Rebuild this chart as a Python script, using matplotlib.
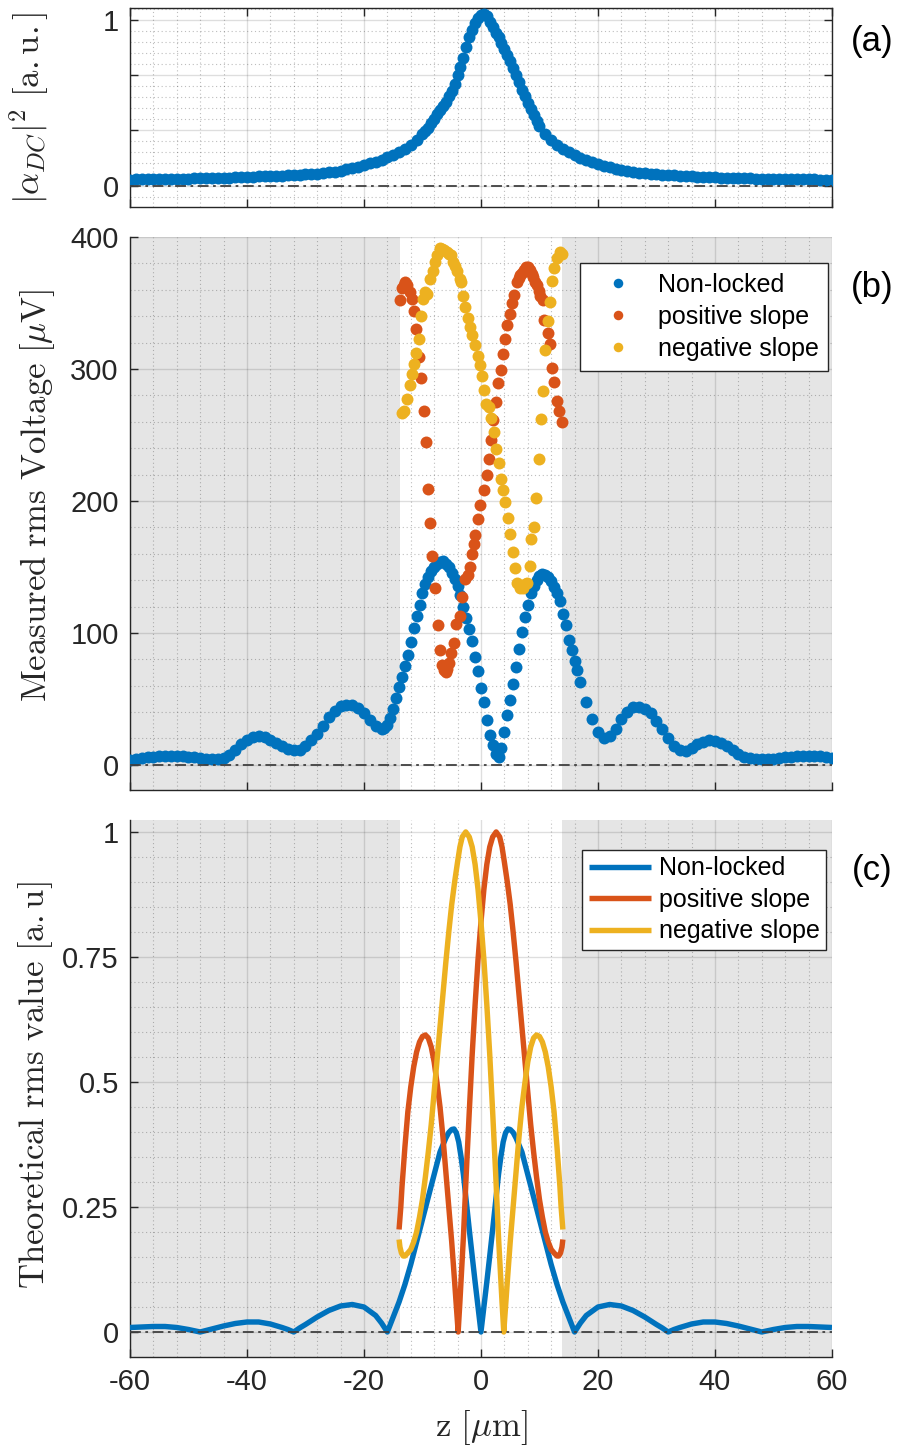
import matplotlib
matplotlib.use('Agg')
import matplotlib.pyplot as plt
from matplotlib.ticker import MultipleLocator, FixedLocator, FixedFormatter

plt.rcParams['mathtext.fontset'] = 'cm'
plt.rcParams['font.family'] = ['Liberation Sans', 'DejaVu Sans']
plt.rcParams['axes.unicode_minus'] = False

# ---------------- data ----------------
# panel (a): |alpha_DC|^2
za = [-60, -59, -58, -57, -56, -55, -54, -53, -52, -51, -50, -49, -48, -47, -46, -45, -44, -43, -42, -41,
      -40, -39, -38, -37, -36, -35, -34, -33, -32, -31, -30, -29, -28, -27, -26, -25, -24, -23, -22, -21,
      -20, -19, -18, -17, -16, -15, -14, -13, -12, -11,
      -10, -9.5, -9, -8.5, -8, -7.5, -7, -6.5, -6, -5.5, -5, -4.5, -4, -3.5, -3, -2.5, -2, -1.5, -1, -0.5,
      0, 0.5, 1, 1.5, 2, 2.5, 3, 3.5, 4, 4.5, 5, 5.5, 6, 6.5, 7, 7.5, 8, 8.5, 9, 9.5, 10,
      11, 12, 13, 14, 15, 16, 17, 18, 19, 20, 21, 22, 23, 24, 25, 26, 27, 28, 29, 30,
      31, 32, 33, 34, 35, 36, 37, 38, 39, 40, 41, 42, 43, 44, 45, 46, 47, 48, 49, 50,
      51, 52, 53, 54, 55, 56, 57, 58, 59, 60]
alpha_dc = [0.036, 0.037, 0.037, 0.038, 0.038, 0.039, 0.039, 0.040, 0.041, 0.041, 0.042, 0.043, 0.043, 0.044,
            0.045, 0.046, 0.047, 0.048, 0.050, 0.051, 0.053, 0.054, 0.055, 0.056, 0.058, 0.059, 0.060, 0.062,
            0.064, 0.066, 0.068, 0.070, 0.072, 0.075, 0.079, 0.084, 0.090, 0.099, 0.106, 0.115, 0.126, 0.135,
            0.145, 0.157, 0.170, 0.185, 0.200, 0.220, 0.245, 0.275,
            0.31, 0.33, 0.35, 0.375, 0.40, 0.43, 0.455, 0.48, 0.505, 0.54, 0.57, 0.615, 0.665, 0.715, 0.77,
            0.835, 0.895, 0.94, 0.98, 1.01,
            1.03, 1.035, 1.025, 0.99, 0.955, 0.92, 0.895, 0.86, 0.825, 0.79, 0.75, 0.71, 0.665, 0.625, 0.58,
            0.54, 0.50, 0.465, 0.425, 0.39, 0.36,
            0.31, 0.275, 0.245, 0.222, 0.20, 0.183, 0.168, 0.155, 0.142, 0.131, 0.12, 0.11, 0.102, 0.094,
            0.087, 0.082, 0.078, 0.074, 0.071, 0.068, 0.066, 0.063, 0.061, 0.059, 0.057, 0.055, 0.053, 0.052,
            0.050, 0.049, 0.048, 0.047, 0.046, 0.045, 0.044, 0.043, 0.042, 0.042, 0.041, 0.040, 0.040, 0.039,
            0.039, 0.038, 0.038, 0.037, 0.037, 0.036, 0.036, 0.036]

# panel (b): measured rms voltage, non-locked
zb_blue = [-60, -59, -58, -57, -56, -55, -54, -53, -52, -51, -50, -49, -48, -47, -46, -45, -44, -43, -42, -41,
           -40, -39, -38, -37, -36, -35, -34, -33, -32, -31, -30, -29, -28, -27, -26, -25, -24, -23, -22, -21,
           -20, -19, -18, -17,
           -16.5, -16, -15.5, -15, -14.5, -14, -13.5, -13, -12.5, -12, -11.5, -11, -10.5, -10, -9.5, -9, -8.5,
           -8, -7.5, -7, -6.5, -6, -5.5, -5, -4.5, -4, -3.5, -3, -2.5, -2, -1.5, -1, -0.5, 0, 0.5, 1, 1.5, 2,
           2.5, 3, 3.5, 4, 4.5, 5, 5.5, 6, 6.5, 7, 7.5, 8, 8.5, 9, 9.5, 10, 10.5, 11, 11.5, 12, 12.5, 13,
           13.5, 14, 14.5, 15, 15.5, 16, 16.5,
           17, 18, 19, 20, 21, 22, 23, 24, 25, 26, 27, 28, 29, 30, 31, 32, 33, 34, 35, 36, 37, 38, 39, 40,
           41, 42, 43, 44, 45, 46, 47, 48, 49, 50, 51, 52, 53, 54, 55, 56, 57, 58, 59, 60]
vb_blue = [3.8, 4.6, 5.2, 5.8, 6.3, 6.6, 6.8, 6.8, 6.8, 6.7, 6.3, 5.8, 5.2, 4.8, 4.5, 4.3, 5.0, 7.5, 11.5, 15.7,
           19.0, 21.3, 22.0, 21.5, 19.2, 16.5, 14.2, 11.8, 10.9, 11.3, 14.3, 18.5, 23.5, 29.5, 36.0, 41.2, 44.3,
           45.5, 45.2, 43.0, 39.5, 34.0, 29.2, 27.0,
           28.0, 30.0, 35.5, 42.5, 50.5, 59.0, 66.5, 75.0, 83.5, 93.0, 104.0, 112.5, 121.0, 130.0, 137.0, 142.5,
           147.0, 150.0, 152.5, 154.0, 154.5, 152.5, 150.0, 145.5, 141.0, 135.5, 128.5, 120.0, 111.5, 103.0,
           94.0, 82.0, 71.0, 58.5, 48.0, 34.0, 23.0, 15.0, 8.5, 6.0, 13.0, 25.0, 38.0, 49.5, 61.5, 74.0, 88.0,
           101.0, 112.0, 121.0, 130.0, 135.5, 140.0, 143.0, 144.3, 144.0, 142.5, 139.5, 134.5, 130.5, 124.5,
           114.5, 106.0, 95.0, 87.0, 79.0, 72.0,
           63.0, 48.0, 35.0, 25.0, 20.5, 22.0, 27.5, 34.5, 40.0, 43.5, 44.0, 42.5, 39.0, 33.5, 27.0, 20.0,
           14.5, 11.0, 10.2, 12.5, 15.5, 17.5, 19.0, 18.3, 16.5, 14.0, 11.0, 8.0, 6.0, 5.1, 4.5, 4.3, 4.3,
           4.5, 5.0, 5.6, 6.3, 6.8, 7.0, 7.0, 6.8, 6.5, 6.0, 5.5]

# panel (b): positive slope
zb_pos = [-13.8, -13.5, -13.2, -12.9, -12.6, -12.2, -11.8, -11.5, -11.05, -10.65, -10.25, -9.8, -9.4, -9.05,
          -8.65, -8.35, -7.8, -7.4, -7.05, -6.65, -6.35, -6.05, -5.8, -5.5, -5.1, -4.65, -4.2, -3.65, -3.25,
          -2.7, -2.3, -1.95, -1.55, -1.25, -0.95, -0.55, -0.15, 0.5, 0.95, 1.4, 1.75, 2.1, 2.55, 2.95, 3.35,
          3.7, 4.1, 4.5, 4.9, 5.35, 5.7, 6.1, 6.45, 6.75, 7.05, 7.35, 7.7, 8.0, 8.35, 8.65, 8.95, 9.25, 9.55,
          9.85, 10.15, 10.6, 10.85, 11.4, 11.75, 12.15, 12.55, 13.0, 13.4, 13.85]
vb_pos = [352, 361, 364, 366, 364, 358, 353, 344, 330, 309, 293, 268, 245, 209,
          183, 158, 134, 106, 87, 76, 72, 70, 73, 77, 85, 92, 107, 113, 127,
          141, 144, 150, 160, 167, 174, 186, 197, 208, 220, 232, 246, 261, 275, 289, 299,
          311, 323, 333, 342, 350, 356, 366, 369, 371, 373, 375, 377, 377, 375, 372, 370, 366, 364,
          359, 355, 352, 337, 327, 319, 301, 290, 276, 268, 260]

# panel (b): negative slope
zb_neg = [-13.5, -13.1, -12.65, -12.2, -11.8, -11.4, -11.05, -10.65, -10.25, -9.9, -9.5, -9.2, -8.65, -8.25,
          -7.9, -7.5, -7.05, -6.65, -6.3, -5.8, -5.5, -5.15, -4.8, -4.4, -4.1, -3.65, -3.4, -3.1, -2.7, -2.3,
          -1.85, -1.55, -0.95, -0.55, -0.2, 0.15, 0.55, 0.9, 1.3, 1.75, 2.15, 2.55, 3.0, 3.4, 3.75, 4.15,
          4.55, 5.0, 5.45, 5.75, 6.15, 6.6, 7.15, 7.55, 7.85, 8.3, 8.55, 9.0, 9.4, 9.85, 10.25, 10.6, 11.0,
          11.4, 11.85, 12.15, 12.55, 13.0, 13.45, 13.85]
vb_neg = [267, 268.5, 277, 288, 296, 304, 312, 323, 340, 353, 358, 357, 368, 374,
          381, 386, 392, 391, 390, 389, 387, 386, 381, 378, 374, 368.5, 366, 355, 347, 339,
          332, 326, 318, 310, 303, 295, 284, 273.5, 271, 263, 252, 239, 229, 217, 208, 199,
          187, 175, 161, 149.5, 138, 134, 134, 137, 138, 151, 171.5, 180, 202, 232, 262, 283, 314,
          336, 351, 366.5, 376.6, 384, 389, 387]

# panel (c): theoretical rms value
zc_blue = [-60, -58, -56, -54, -52, -50, -48, -46, -44, -42, -40, -38, -36, -34, -33, -32, -31, -30, -28, -26,
           -24, -22, -20, -18, -17, -16, -15, -14, -13, -12, -11, -10, -9, -8, -7, -6, -5.5, -5, -4.6, -4.2,
           -3.8, -3.4, -3, -2.5, -2, -1.5, -1, -0.5, 0,
           0.5, 1, 1.5, 2, 2.5, 3, 3.4, 3.8, 4.2, 4.6, 5, 5.5, 6, 7, 8, 9, 10, 11, 12, 13, 14, 15, 16, 17, 18,
           20, 22, 24, 26, 28, 30, 31, 32, 33, 34, 36, 38, 40, 42, 44, 46, 48, 50, 52, 54, 56, 58, 60]
vc_blue = [0.009, 0.010, 0.011, 0.011, 0.009, 0.005, 0.0, 0.006, 0.012, 0.017, 0.020, 0.020, 0.016, 0.009,
           0.005, 0.0, 0.008, 0.015, 0.030, 0.043, 0.052, 0.055, 0.050, 0.033, 0.018, 0.0, 0.03, 0.06, 0.095,
           0.135, 0.18, 0.225, 0.27, 0.315, 0.36, 0.388, 0.399, 0.405, 0.406, 0.398, 0.38, 0.35, 0.315, 0.26,
           0.205, 0.152, 0.10, 0.05, 0.0,
           0.05, 0.10, 0.152, 0.205, 0.26, 0.315, 0.35, 0.38, 0.398, 0.406, 0.405, 0.399, 0.388, 0.36, 0.315,
           0.27, 0.225, 0.18, 0.135, 0.095, 0.06, 0.03, 0.0, 0.018, 0.033, 0.050, 0.055, 0.052, 0.043, 0.030,
           0.015, 0.008, 0.0, 0.005, 0.009, 0.016, 0.020, 0.020, 0.017, 0.012, 0.006, 0.0, 0.005, 0.009, 0.011,
           0.011, 0.010, 0.009]

zc_pos = [-14.0, -13.7, -13.5, -13.0, -12.5, -12.0, -11.5, -11.0, -10.5, -10.0, -9.5, -9.0, -8.5, -8.0, -7.5,
          -7.0, -6.5, -6.0, -5.5, -5.0, -4.5, -4.2, -3.9, -3.6, -3.3, -3.0, -2.5, -2.0, -1.5, -1.0, -0.5, 0.0,
          0.5, 1.0, 1.5, 2.0, 2.6, 3.2, 3.6, 4.0, 4.5, 5.0, 5.5, 6.0, 6.5, 7.0, 7.5, 8.0, 8.5, 9.0, 9.5, 10.0,
          10.5, 11.0, 11.5, 12.0, 12.5, 13.0, 13.3, 13.6, 13.85, 14.0]
vc_pos = [0.205, 0.25, 0.29, 0.37, 0.44, 0.49, 0.53, 0.56, 0.58, 0.591, 0.594, 0.588, 0.57, 0.54, 0.497,
          0.45, 0.39, 0.32, 0.25, 0.18, 0.10, 0.05, 0.0, 0.06, 0.125, 0.19, 0.32, 0.44, 0.555, 0.655, 0.745,
          0.82, 0.885, 0.935, 0.97, 0.99, 1.0, 0.99, 0.97, 0.94, 0.9, 0.855, 0.8, 0.74, 0.675, 0.61, 0.545,
          0.48, 0.415, 0.36, 0.31, 0.265, 0.23, 0.2, 0.18, 0.165, 0.158, 0.152, 0.152, 0.158, 0.17, 0.185]

zc_neg = [-14.0, -13.85, -13.6, -13.3, -13.0, -12.5, -12.0, -11.5, -11.0, -10.5, -10.0, -9.5, -9.0, -8.5, -8.0,
          -7.5, -7.0, -6.5, -6.0, -5.5, -5.0, -4.5, -4.0, -3.6, -3.2, -2.6, -2.0, -1.5, -1.0, -0.5, 0.0, 0.5,
          1.0, 1.5, 2.0, 2.5, 3.0, 3.3, 3.6, 3.9, 4.2, 4.5, 5.0, 5.5, 6.0, 6.5, 7.0, 7.5, 8.0, 8.5, 9.0, 9.5,
          10.0, 10.5, 11.0, 11.5, 12.0, 12.5, 13.0, 13.5, 13.7, 14.0]
vc_neg = [0.185, 0.17, 0.158, 0.152, 0.152, 0.158, 0.165, 0.18, 0.2, 0.23, 0.265, 0.31, 0.36, 0.415, 0.48,
          0.545, 0.61, 0.675, 0.74, 0.8, 0.855, 0.9, 0.94, 0.97, 0.99, 1.0, 0.99, 0.97, 0.935, 0.885, 0.82,
          0.745, 0.655, 0.555, 0.44, 0.32, 0.19, 0.125, 0.06, 0.0, 0.05, 0.10, 0.18, 0.25, 0.32, 0.39, 0.45,
          0.497, 0.54, 0.57, 0.588, 0.594, 0.591, 0.58, 0.56, 0.53, 0.49, 0.44, 0.37, 0.29, 0.25, 0.205]

series_labels = ['Non-locked', 'positive slope', 'negative slope']
xticks = [-60, -40, -20, 0, 20, 40, 60]
xticklabels = ['-60', '-40', '-20', '0', '20', '40', '60']
shade_edges = [-13.9, 13.9]

C_BLUE = '#0072BD'
C_RED = '#D95319'
C_YEL = '#EDB120'
C_TXT = '#262626'
C_SHADE = '#E5E5E5'
MS = 8.6

# ---------------- figure ----------------
fig = plt.figure(figsize=(9, 14.46), dpi=100)
axa = fig.add_axes([0.1444, 0.8568, 0.78, 0.1376])
axb = fig.add_axes([0.1444, 0.4537, 0.78, 0.3824])
axc = fig.add_axes([0.1444, 0.06155, 0.78, 0.3714])


def style(ax, box):
    ax.set_xlim(-60, 60)
    ax.xaxis.set_major_locator(FixedLocator(xticks))
    ax.xaxis.set_major_formatter(FixedFormatter(xticklabels))
    ax.xaxis.set_minor_locator(MultipleLocator(4))
    ax.set_axisbelow(True)
    ax.grid(True, which='major', color=C_TXT, alpha=0.15, lw=1.0, ls='-')
    ax.grid(True, which='minor', color=C_TXT, alpha=0.3, lw=0.8, ls=(0, (1, 2.5)))
    ax.tick_params(which='major', direction='in', length=5.5, width=1.0, labelsize=21,
                   colors=C_TXT, pad=8, top=box, right=box)
    ax.tick_params(which='minor', length=0)
    for s in ['left', 'bottom', 'top', 'right']:
        ax.spines[s].set_color(C_TXT)
        ax.spines[s].set_linewidth(1.0)
    if not box:
        ax.spines['top'].set_visible(False)
        ax.spines['right'].set_visible(False)
    ax.axhline(0, color='#404040', lw=1.3, dashes=(6, 2.5, 1.5, 2.5), zorder=6)


def shade(ax):
    ax.axvspan(-60, shade_edges[0], color=C_SHADE, lw=0, zorder=0.1)
    ax.axvspan(shade_edges[1], 60, color=C_SHADE, lw=0, zorder=0.1)


# (a)
style(axa, True)
axa.plot(za, alpha_dc, 'o', color=C_BLUE, ms=MS, mew=0, zorder=3)
axa.set_ylim(-0.13, 1.072)
axa.yaxis.set_major_locator(FixedLocator([0, 1 / 3, 2 / 3, 1]))
axa.yaxis.set_major_formatter(FixedFormatter(['0', '', '', '1']))
axa.yaxis.set_minor_locator(MultipleLocator(1 / 15))
axa.set_xticklabels([])
axa.set_ylabel(r'$|\alpha_{DC}|^2\ \mathrm{[a.u.]}$', fontsize=25, color=C_TXT)
axa.yaxis.set_label_coords(-0.112, 0.5)

# (b)
style(axb, False)
shade(axb)
axb.plot(zb_blue, vb_blue, 'o', color=C_BLUE, ms=MS, mew=0, zorder=3, label=series_labels[0])
axb.plot(zb_pos, vb_pos, 'o', color=C_RED, ms=MS, mew=0, zorder=4, label=series_labels[1])
axb.plot(zb_neg, vb_neg, 'o', color=C_YEL, ms=MS, mew=0, zorder=5, label=series_labels[2])
axb.set_ylim(-19, 400)
axb.yaxis.set_major_locator(FixedLocator([0, 100, 200, 300, 400]))
axb.yaxis.set_major_formatter(FixedFormatter(['0', '100', '200', '300', '400']))
axb.yaxis.set_minor_locator(MultipleLocator(20))
axb.set_xticklabels([])
axb.set_ylabel(r'$\mathrm{Measured\ rms\ Voltage\ }[\mu\mathrm{V}]$', fontsize=25, color=C_TXT)
axb.yaxis.set_label_coords(-0.104, 0.533)
legb = axb.legend(loc='upper right', bbox_to_anchor=(0.995, 0.953), borderaxespad=0, fontsize=18,
                  frameon=True, fancybox=False, framealpha=1, edgecolor=C_TXT, handlelength=2.2,
                  handletextpad=0.5, borderpad=0.4, labelspacing=0.32, markerscale=0.8)
legb.get_frame().set_linewidth(1.0)
legb.set_zorder(10)

# (c)
style(axc, False)
shade(axc)
kw = dict(lw=3.9, solid_capstyle='butt', solid_joinstyle='round')
axc.plot(zc_blue, vc_blue, color=C_BLUE, zorder=3, label=series_labels[0], **kw)
axc.plot(zc_pos, vc_pos, color=C_RED, zorder=4, label=series_labels[1], **kw)
axc.plot(zc_neg, vc_neg, color=C_YEL, zorder=5, label=series_labels[2], **kw)
axc.set_ylim(-0.05, 1.024)
axc.yaxis.set_major_locator(FixedLocator([0, 0.25, 0.5, 0.75, 1]))
axc.yaxis.set_major_formatter(FixedFormatter(['0', '0.25', '0.5', '0.75', '1']))
axc.yaxis.set_minor_locator(MultipleLocator(0.05))
axc.set_ylabel(r'$\mathrm{Theoretical\ rms\ value\ [a.u]}$', fontsize=25, color=C_TXT)
axc.yaxis.set_label_coords(-0.107, 0.506)
axc.set_xlabel(r'$\mathrm{z}\ [\mu\mathrm{m}]$', fontsize=25, color=C_TXT)
axc.xaxis.set_label_coords(0.5, -0.095)
legc = axc.legend(loc='upper right', bbox_to_anchor=(0.991, 0.944), borderaxespad=0, fontsize=18,
                  frameon=True, fancybox=False, framealpha=1, edgecolor=C_TXT, handlelength=2.5,
                  handletextpad=0.3, borderpad=0.25, labelspacing=0.3)
legc.get_frame().set_linewidth(1.0)
legc.set_zorder(10)

# panel tags
for txt, yy in [('(a)', 0.971), ('(b)', 0.8015), ('(c)', 0.398)]:
    fig.text(0.969, yy, txt, fontsize=25, ha='center', va='center', color='black')

fig.savefig('out.png', dpi=100)
